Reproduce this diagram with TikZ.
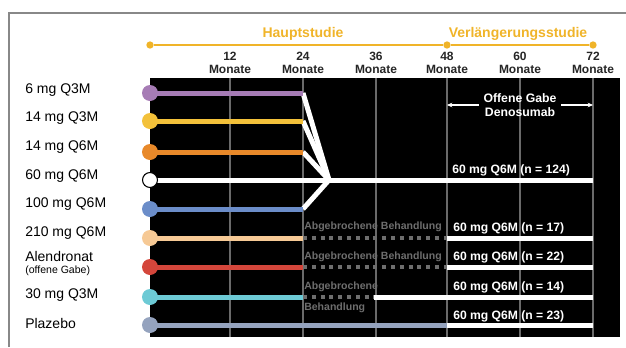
\documentclass[tikz,border=0pt]{standalone}
\usepackage{fontspec}
\setmainfont{Liberation Sans}
\usetikzlibrary{arrows.meta}
\definecolor{gold}{HTML}{F0B429}
\definecolor{cpurple}{HTML}{A67CB5}
\definecolor{cyellow}{HTML}{F3C13A}
\definecolor{corange}{HTML}{E8892A}
\definecolor{cblue}{HTML}{6B8DC9}
\definecolor{cpeach}{HTML}{F6C995}
\definecolor{cred}{HTML}{D4463B}
\definecolor{ccyan}{HTML}{6DCAD5}
\definecolor{cplac}{HTML}{95A3BE}
\definecolor{gridgray}{HTML}{6A6A6A}
\definecolor{txtgray}{HTML}{6E6E6E}
\begin{document}
\begin{tikzpicture}[x=0.75pt,y=-0.75pt,
  framel/.style={draw=gridgray!80,line width=1pt},
  gridl/.style={draw=gridgray,line width=1.1pt},
  bar/.style={line width=3.75pt},
  whitebar/.style={draw=white,line width=3.75pt},
  dashbar/.style={draw=txtgray,line width=3pt,dash pattern=on 3pt off 3.6pt},
  dot/.style={circle,inner sep=0pt,minimum size=12pt,draw=none},
  gdot/.style={circle,inner sep=0pt,minimum size=5.5pt,fill=gold},
  rowlab/.style={anchor=west,inner sep=0pt,font=\fontsize{10.5}{12}\selectfont},
  month/.style={align=center,inner sep=0pt,font=\fontsize{9}{9.8}\selectfont\bfseries,text=black!85},
  phase/.style={inner sep=0pt,font=\fontsize{10.5}{12}\selectfont\bfseries,text=gold},
  wlab/.style={anchor=west,inner sep=0pt,font=\fontsize{9.1}{10}\selectfont\bfseries,text=white},
  glab/.style={anchor=west,inner sep=0pt,font=\fontsize{7.9}{9}\selectfont\bfseries,text=txtgray},
]
\useasboundingbox (0,0) rectangle (626,347);
% frame
\draw[framel] (9,347) -- (9,13) -- (626,13);
% black panel
\fill[black] (150,78) rectangle (620,337);
% grid
\foreach \x/\m in {230/12,303/24,376/36,447/48,520/60,593/72}{
  \draw[gridl] (\x,78) -- (\x,337);
  \node[month] (m\m) at (\x,62.5) {\m\\Monate};
}
% timeline
\node[gdot] (t0) at (150,45) {};
\node[gdot] (t48) at (447,45) {};
\node[gdot] (t72) at (593,45) {};
\draw[gold,line width=2pt] (t0) -- (t48) -- (t72);
\node[phase] (hs) at (303,34) {Hauptstudie};
\node[phase] (vs) at (518,34) {Verlängerungsstudie};
% row coordinates
\foreach \i/\y in {1/93,2/121,3/152,4/180,5/209,6/238,7/267,8/297,9/325}{
  \coordinate (s\i) at (150,\y);
  \coordinate (e\i) at (303,\y);
  \coordinate (f\i) at (447,\y);
  \coordinate (z\i) at (593,\y);
}
\coordinate (apex) at (329,180);
% converging white lines
\foreach \i in {1,2,3,5}{
  \draw[whitebar] (e\i) -- (apex);
}
\draw[whitebar] (s4) -- (z4);
% colored bars
\draw[bar,cpurple] (s1) -- (e1);
\draw[bar,cyellow] (s2) -- (e2);
\draw[bar,corange] (s3) -- (e3);
\draw[bar,cblue] (s5) -- (e5);
\draw[bar,cpeach] (s6) -- (e6);
\draw[bar,cred] (s7) -- (e7);
\draw[bar,ccyan] (s8) -- (e8);
\draw[bar,cplac] (s9) -- (f9);
% discontinued treatment
\coordinate (d8) at (374,297);
\draw[dashbar] (e6) -- (f6);
\draw[dashbar] (e7) -- (f7);
\draw[dashbar] (e8) -- (d8);
\draw[whitebar] (f6) -- (z6);
\draw[whitebar] (f7) -- (z7);
\draw[whitebar] (d8) -- (z8);
\draw[whitebar] (f9) -- (z9);
% circles
\node[dot,fill=cpurple] (c1) at (s1) {};
\node[dot,fill=cyellow] (c2) at (s2) {};
\node[dot,fill=corange] (c3) at (s3) {};
\node[dot,fill=white,draw=black,line width=0.8pt,minimum size=11.2pt] (c4) at (s4) {};
\node[dot,fill=cblue] (c5) at (s5) {};
\node[dot,fill=cpeach] (c6) at (s6) {};
\node[dot,fill=cred] (c7) at (s7) {};
\node[dot,fill=ccyan] (c8) at (s8) {};
\node[dot,fill=cplac] (c9) at (s9) {};
% row labels
\node[rowlab] (l1) at (25,90) {6 mg Q3M};
\node[rowlab] (l2) at (25,118) {14 mg Q3M};
\node[rowlab] (l3) at (25,147) {14 mg Q6M};
\node[rowlab] (l4) at (25,176) {60 mg Q6M};
\node[rowlab] (l5) at (25,204) {100 mg Q6M};
\node[rowlab] (l6) at (25,233) {210 mg Q6M};
\node[rowlab] (l7) at (25,256) {Alendronat};
\node[rowlab,font=\fontsize{7.9}{9}\selectfont] (l7b) at (25,271) {(offene Gabe)};
\node[rowlab] (l8) at (25,295) {30 mg Q3M};
\node[rowlab] (l9) at (25,323) {Plazebo};
% white labels
\node[wlab] (w4) at (452,170) {60 mg Q6M (n = 124)};
\node[wlab] (w6) at (453,228) {60 mg Q6M (n = 17)};
\node[wlab] (w7) at (453,257) {60 mg Q6M (n = 22)};
\node[wlab] (w8) at (453,287) {60 mg Q6M (n = 14)};
\node[wlab] (w9) at (453,316) {60 mg Q6M (n = 23)};
% grey labels
\node[glab] (g6) at (304,227) {Abgebrochene Behandlung};
\node[glab] (g7) at (304,257) {Abgebrochene Behandlung};
\node[glab] (g8) at (304,287) {Abgebrochene};
\node[glab] (g8b) at (304,308) {Behandlung};
% open label
\node[align=center,inner sep=1pt,font=\fontsize{9.2}{10.5}\selectfont\bfseries,text=white] (og) at (520,105) {Offene Gabe\\Denosumab};
\coordinate (a48) at (447,105);
\coordinate (a72) at (593,105);
\draw[white,line width=0.9pt,-{Stealth[length=4pt,width=3.5pt]}] (og.west) ++(-3,0) -- (a48);
\draw[white,line width=0.9pt,-{Stealth[length=4pt,width=3.5pt]}] (og.east) ++(3,0) -- (a72);
\end{tikzpicture}
\end{document}
